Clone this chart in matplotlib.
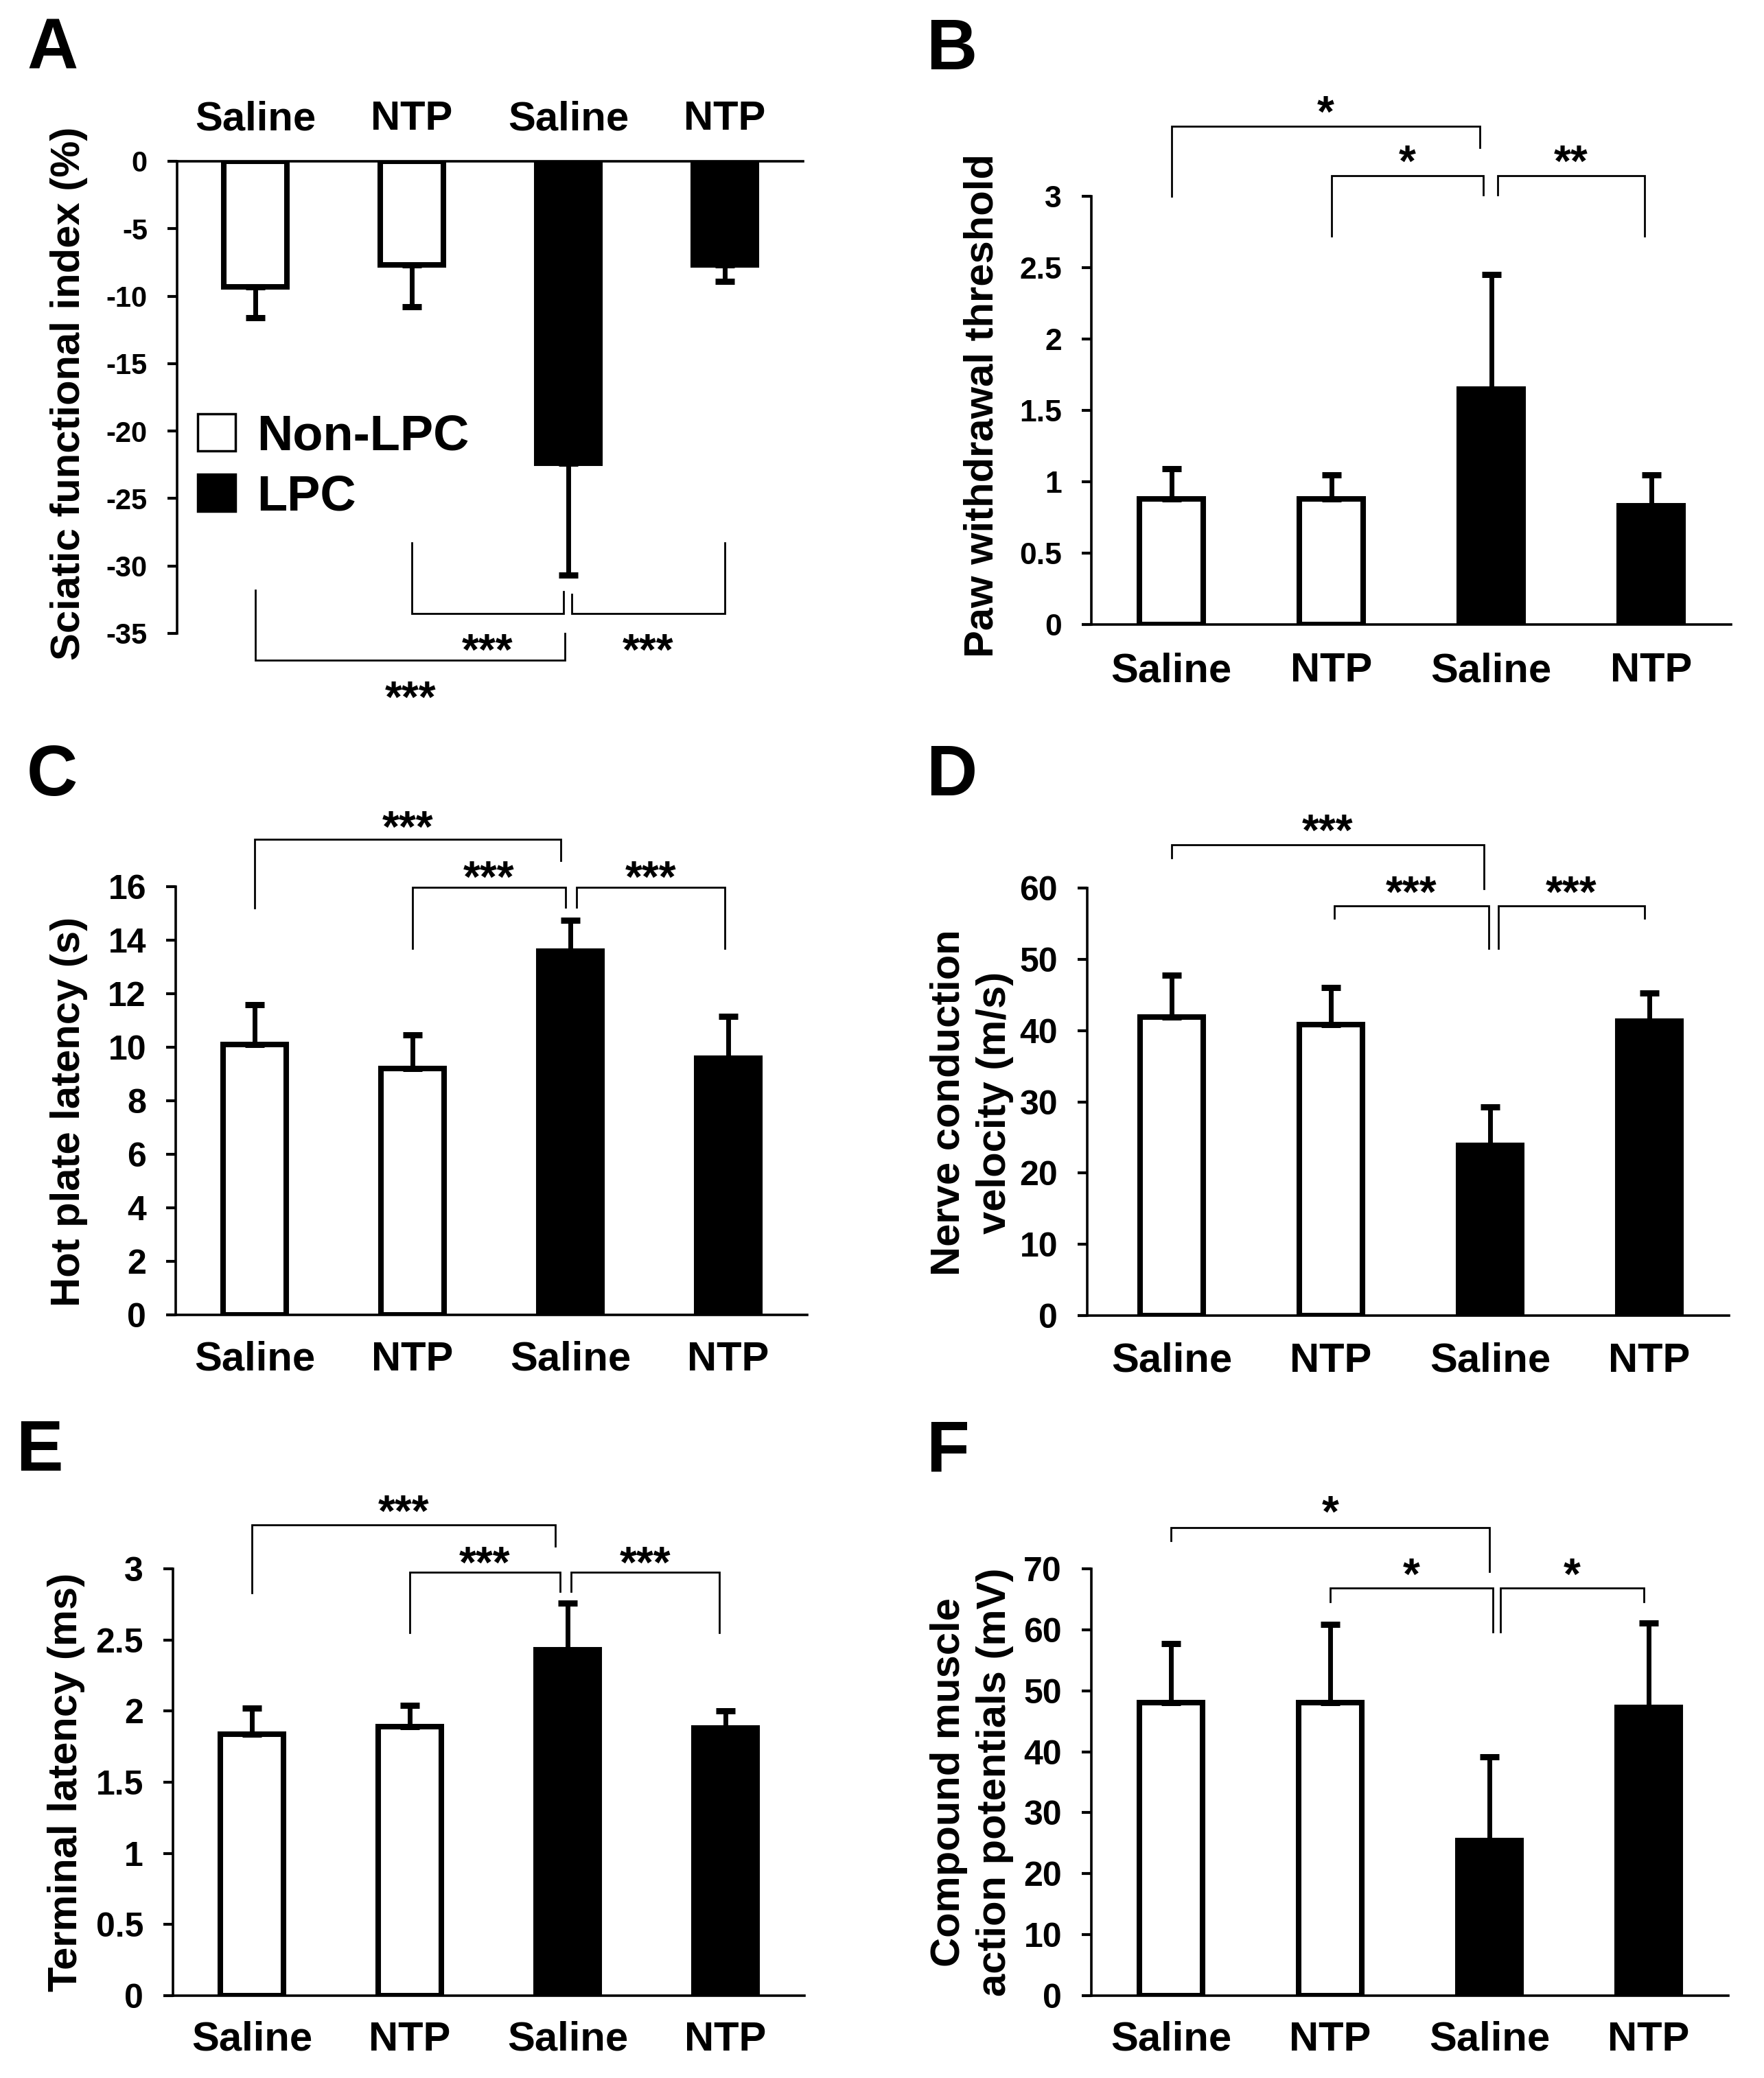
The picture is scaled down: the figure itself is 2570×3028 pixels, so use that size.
import matplotlib
matplotlib.use("Agg")
import matplotlib.pyplot as plt
from matplotlib import font_manager
from matplotlib.patches import Patch

# pick fonts that are actually installed
installed = {f.name for f in font_manager.fontManager.ttflist}
ARIAL = "Liberation Sans" if "Liberation Sans" in installed else "DejaVu Sans"
NARROW = "Liberation Sans Narrow" if "Liberation Sans Narrow" in installed else ARIAL

# ---- data ----
groups = ["Saline", "NTP", "Saline", "NTP"]
bar_colors = ["white", "white", "black", "black"]
legend_labels = ["Non-LPC", "LPC"]

sfi_mean = [-9.3, -7.7, -22.4, -7.7]
sfi_err = [2.3, 3.1, 8.3, 1.2]
paw_mean = [0.88, 0.88, 1.65, 0.83]
paw_err = [0.21, 0.17, 0.80, 0.22]
hot_mean = [10.1, 9.2, 13.6, 9.6]
hot_err = [1.5, 1.25, 1.15, 1.55]
ncv_mean = [41.9, 40.8, 23.9, 41.3]
ncv_err = [5.9, 5.2, 5.4, 4.0]
tl_mean = [1.84, 1.89, 2.43, 1.88]
tl_err = [0.18, 0.15, 0.33, 0.12]
cmap_mean = [48.0, 48.0, 25.4, 47.3]
cmap_err = [9.7, 12.9, 13.8, 13.8]

sfi_ticks = [0, -5, -10, -15, -20, -25, -30, -35]
sfi_ticklabels = ["0", "-5", "-10", "-15", "-20", "-25", "-30", "-35"]
paw_ticks = [0, 0.5, 1, 1.5, 2, 2.5, 3]
paw_ticklabels = ["0", "0.5", "1", "1.5", "2", "2.5", "3"]
hot_ticks = [0, 2, 4, 6, 8, 10, 12, 14, 16]
hot_ticklabels = [str(v) for v in hot_ticks]
ncv_ticks = [0, 10, 20, 30, 40, 50, 60]
ncv_ticklabels = [str(v) for v in ncv_ticks]
tl_ticks = [0, 0.5, 1, 1.5, 2, 2.5, 3]
tl_ticklabels = ["0", "0.5", "1", "1.5", "2", "2.5", "3"]
cmap_ticks = [0, 10, 20, 30, 40, 50, 60, 70]
cmap_ticklabels = [str(v) for v in cmap_ticks]

# significance brackets: x0, x1, y of bar, y left end, y right end, stars, y of stars
sfi_sig = [(1, 1.97, -33.5, -28.3, -31.9, "***", -35.4),
           (2.02, 3.0, -33.5, -32.1, -28.3, "***", -35.4),
           (0, 1.98, -37.0, -31.8, -35.0, "***", -38.9)]
paw_sig = [(0, 1.93, 3.49, 3.0, 3.34, "*", 3.67),
           (1, 1.95, 3.145, 2.72, 3.01, "*", 3.32),
           (2.04, 2.96, 3.145, 3.01, 2.72, "**", 3.32)]
hot_sig = [(0, 1.94, 17.77, 15.2, 16.98, "***", 18.65),
           (1, 1.97, 15.97, 13.69, 15.24, "***", 16.77),
           (2.04, 2.98, 15.97, 15.24, 13.69, "***", 16.77)]
ncv_sig = [(0, 1.96, 66.1, 64.2, 59.9, "***", 69.6),
           (1.02, 1.99, 57.5, 55.8, 51.5, "***", 61.0),
           (2.05, 2.97, 57.5, 51.5, 55.8, "***", 61.0)]
tl_sig = [(0, 1.92, 3.31, 2.83, 3.16, "***", 3.48),
          (1, 1.95, 2.976, 2.55, 2.84, "***", 3.12),
          (2.02, 2.96, 2.976, 2.84, 2.55, "***", 3.12)]
cmap_sig = [(0, 2.0, 76.8, 74.6, 69.6, "*", 81.1),
            (1, 2.02, 66.8, 64.6, 59.7, "*", 70.9),
            (2.07, 2.97, 66.8, 59.7, 64.6, "*", 70.9)]

W, H = 2570, 3028
fig = plt.figure(figsize=(W / 100, H / 100), dpi=100)

LABEL_SIZE = 43
STAR_SIZE = 46


def add_axes(left, top, right, bottom):
    return fig.add_axes([left / W, 1 - bottom / H, (right - left) / W, (bottom - top) / H])


def draw_panel(ax, means, errs, ticks, ticklabels, ylim, sig, tick_font, tick_size,
               label_pad, xlim=(-0.5, 3.5), below=False):
    x = list(range(len(groups)))
    ax.bar(x, means, width=0.4, color=bar_colors, edgecolor="black", linewidth=5.8, zorder=2)
    zeros = [0] * len(errs)
    yerr = [errs, zeros] if below else [zeros, errs]
    ax.errorbar(x, means, yerr=yerr, fmt="none", ecolor="black", elinewidth=5,
                capsize=10, capthick=6.5, zorder=3)

    ax.set_xlim(*xlim)
    ax.set_ylim(*ylim)
    for side in ["right", "top", "bottom", "left"]:
        ax.spines[side].set_linewidth(2.6)
    ax.spines["right"].set_visible(False)
    ax.spines["bottom" if below else "top"].set_visible(False)

    ax.set_yticks(ticks)
    ax.set_yticklabels(ticklabels, fontsize=tick_size, fontweight="bold",
                       family=[tick_font, "DejaVu Sans"])
    ax.tick_params(axis="y", direction="out", length=10, width=3, pad=21)

    ax.set_xticks(x)
    ax.set_xticklabels(groups, fontsize=LABEL_SIZE, fontweight="bold", family=[ARIAL, "DejaVu Sans"])
    if below:
        ax.xaxis.tick_top()
    ax.tick_params(axis="x", length=0, pad=label_pad)
    for lbl in ax.get_xticklabels():
        lbl.set_va("baseline")

    for x0, x1, yh, yl, yr, stars, ys in sig:
        ax.plot([x0, x0, x1, x1], [yl, yh, yh, yr], color="black", lw=2,
                clip_on=False, solid_joinstyle="miter")
        ax.annotate(stars, xy=((x0 + x1) / 2, ys), xytext=(0, -0.59 * STAR_SIZE),
                    textcoords="offset points", ha="center", va="baseline",
                    fontsize=STAR_SIZE, fontweight="bold", family=[ARIAL, "DejaVu Sans"],
                    annotation_clip=False)


def set_ylabel(ax, text, x, y, linespacing=1.2):
    ax.set_ylabel(text, fontsize=LABEL_SIZE, fontweight="bold", family=[ARIAL, "DejaVu Sans"],
                  va="center", ha="center", linespacing=linespacing)
    ax.yaxis.set_label_coords(x / W, 1 - y / H, transform=fig.transFigure)


# A: sciatic functional index
axA = add_axes(258, 235, 1170, 923)
draw_panel(axA, sfi_mean, sfi_err, sfi_ticks, sfi_ticklabels, (-35, 0), sfi_sig,
           ARIAL, 30, 33, below=True)
set_ylabel(axA, "Sciatic functional index (%)", 101, 573)
handles = [Patch(facecolor="white", edgecolor="black", linewidth=2.5),
           Patch(facecolor="black", edgecolor="black", linewidth=2.5)]
axA.legend(handles, legend_labels, loc="upper left", bbox_to_anchor=(288 / W, 1 - 602 / H),
           bbox_transform=fig.transFigure, frameon=False, borderpad=0, borderaxespad=0,
           handlelength=0.764, handleheight=0.764, handletextpad=0.43, labelspacing=0.28,
           prop={"family": [ARIAL, "DejaVu Sans"], "weight": "bold", "size": 52})

# B: paw withdrawal threshold
axB = add_axes(1590, 286, 2522, 910)
draw_panel(axB, paw_mean, paw_err, paw_ticks, paw_ticklabels, (0, 3), paw_sig,
           ARIAL, 32, 60)
set_ylabel(axB, "Paw withdrawal threshold", 1431, 591)

# C: hot plate latency
axC = add_axes(256, 1292, 1176, 1916)
draw_panel(axC, hot_mean, hot_err, hot_ticks, hot_ticklabels, (0, 16), hot_sig,
           NARROW, 36, 58)
set_ylabel(axC, "Hot plate latency (s)", 101, 1620)

# D: nerve conduction velocity
axD = add_axes(1584, 1294, 2519, 1917)
draw_panel(axD, ncv_mean, ncv_err, ncv_ticks, ncv_ticklabels, (0, 60), ncv_sig,
           NARROW, 36, 59, xlim=(-0.53, 3.5))
set_ylabel(axD, "Nerve conduction\nvelocity (m/s)", 1416, 1607, linespacing=1.3)

# E: terminal latency
axE = add_axes(252, 2286, 1172, 2908)
draw_panel(axE, tl_mean, tl_err, tl_ticks, tl_ticklabels, (0, 3), tl_sig,
           NARROW, 36, 57.5)
set_ylabel(axE, "Terminal latency (ms)", 97, 2597)

# F: compound muscle action potentials
axF = add_axes(1590, 2286, 2518, 2908)
draw_panel(axF, cmap_mean, cmap_err, cmap_ticks, cmap_ticklabels, (0, 70), cmap_sig,
           NARROW, 36, 57.5)
set_ylabel(axF, "Compound muscle\naction potentials (mV)", 1416, 2597, linespacing=1.3)

# panel letters
for letter, lx, ly in [("A", 39, 100), ("B", 1349, 101), ("C", 39, 1159),
                       ("D", 1349, 1159), ("E", 23, 2143), ("F", 1349, 2143)]:
    fig.text(lx / W, 1 - ly / H, letter, fontsize=74, fontweight="bold",
             family=[ARIAL, "DejaVu Sans"], ha="left", va="baseline")

fig.savefig("out.png", dpi=100)
